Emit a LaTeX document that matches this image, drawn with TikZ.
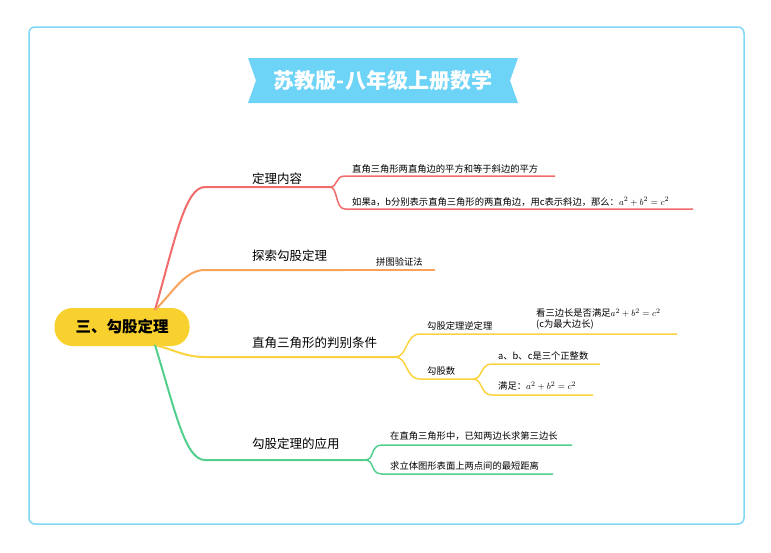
\documentclass[tikz,border=0pt]{standalone}
\usepackage{fontspec}
\setmainfont{Noto Sans CJK SC}
\usetikzlibrary{calc}
\definecolor{frameblue}{HTML}{7FD6F5}
\definecolor{titleblue}{HTML}{6DD3F7}
\definecolor{rootyellow}{HTML}{F9D12F}
\definecolor{bred}{HTML}{F26B6B}
\definecolor{borange}{HTML}{F7A35C}
\definecolor{byellow}{HTML}{FBD33F}
\definecolor{bgreen}{HTML}{52CF8C}
\tikzset{
  EdgeRed/.style={bred,line width=2pt},
  EdgeOrange/.style={borange,line width=2pt},
  EdgeYellow/.style={byellow,line width=2pt},
  EdgeGreen/.style={bgreen,line width=2pt},
  SubEdge/.style={line width=1.5pt},
  MainLabel/.style={anchor=south west,font=\fontsize{12.5}{15}\selectfont,inner sep=2pt},
  LeafLabel/.style={anchor=south west,font=\fontsize{9.3}{11}\selectfont,inner sep=2pt,align=left}
}
\begin{document}
\begin{tikzpicture}[x=1pt,y=-1pt]
            \useasboundingbox (0,0) rectangle (771,552);
            \draw[frameblue,line width=1.5pt,rounded corners=6pt] (29,27) rectangle (744,524);
            % title ribbon
            \fill[titleblue] (248,58) -- (518,58) -- (510,80.5) -- (518,103) -- (248,103) -- (256,80.5) -- cycle;
            \node[white,font=\fontsize{21}{24}\selectfont\bfseries] (title) at (383,80.5){苏教版-八年级上册数学};
            % root
            \node[fill=rootyellow,rounded corners=18pt,minimum width=135pt,minimum height=38pt,
                  font=\fontsize{15.5}{18}\selectfont\bfseries] (root) at (122,327){三、勾股定理};
            \coordinate (r0) at (155,310);
            \coordinate (r1) at (155,345);

            % red branch
            \coordinate (a) at (205,187);
            \coordinate (a1) at (330,187);
            \draw[EdgeRed] (r0) .. controls (175,240) and (185,187) .. (a) -- (a1);
            \node[MainLabel] (la) at (250,187){定理内容};
            \coordinate (a11) at (345,176);
            \coordinate (a12) at (345,209);
            \draw[EdgeRed,SubEdge] (a1) .. controls (338,187) and (335,176) .. (a11) -- (555,176);
            \draw[EdgeRed,SubEdge] (a1) .. controls (338,187) and (335,209) .. (a12) -- (693,209);
            \node[LeafLabel] (la1) at (350,176){直角三角形两直角边的平方和等于斜边的平方};
            \node[LeafLabel] (la2) at (350,209){如果a，b分别表示直角三角形的两直角边，用c表示斜边，那么：$a^2+b^2=c^2$};

            % orange branch
            \coordinate (b) at (205,270);
            \draw[EdgeOrange] (r0) .. controls (175,290) and (185,270) .. (b) -- (345,270);
            \draw[EdgeOrange,SubEdge] (345,270) -- (435,270);
            \node[MainLabel] (lb) at (250,264){探索勾股定理};
            \node[LeafLabel] (lb1) at (374,268){拼图验证法};

            % yellow branch
            \coordinate (c) at (205,357);
            \coordinate (c1) at (395,357);
            \draw[EdgeYellow] (r1) .. controls (175,350) and (185,357) .. (c) -- (c1);
            \node[MainLabel] (lc) at (250,351){直角三角形的判别条件};
            \draw[EdgeYellow,SubEdge] (c1) .. controls (408,357) and (405,334) .. (420,334) -- (677,334);
            \draw[EdgeYellow,SubEdge] (c1) .. controls (408,357) and (405,379) .. (420,379) -- (473,379);
            \node[LeafLabel] (lc1) at (425,332){勾股定理逆定理};
            \node[LeafLabel] (lc2) at (425,377){勾股数};
            \node[LeafLabel] (lc11) at (534,332){看三边长是否满足$a^2+b^2=c^2$\\(c为最大边长)};
            \draw[EdgeYellow,SubEdge] (473,379) .. controls (483,379) and (480,364) .. (492,364) -- (600,364);
            \draw[EdgeYellow,SubEdge] (473,379) .. controls (483,379) and (480,395) .. (492,395) -- (593,395);
            \node[LeafLabel] (lc21) at (496,362){a、b、c是三个正整数};
            \node[LeafLabel] (lc22) at (496,393){满足：$a^2+b^2=c^2$};

            % green branch
            \coordinate (d) at (205,460);
            \coordinate (d1) at (365,460);
            \draw[EdgeGreen] (r1) .. controls (175,410) and (185,460) .. (d) -- (d1);
            \node[MainLabel] (ld) at (250,452){勾股定理的应用};
            \draw[EdgeGreen,SubEdge] (d1) .. controls (375,460) and (370,445) .. (382,445) -- (572,445);
            \draw[EdgeGreen,SubEdge] (d1) .. controls (375,460) and (370,474) .. (382,474) -- (553,474);
            \node[LeafLabel] (ld1) at (388,443){在直角三角形中，已知两边长求第三边长};
            \node[LeafLabel] (ld2) at (388,472){求立体图形表面上两点间的最短距离};
\end{tikzpicture}
\end{document}
